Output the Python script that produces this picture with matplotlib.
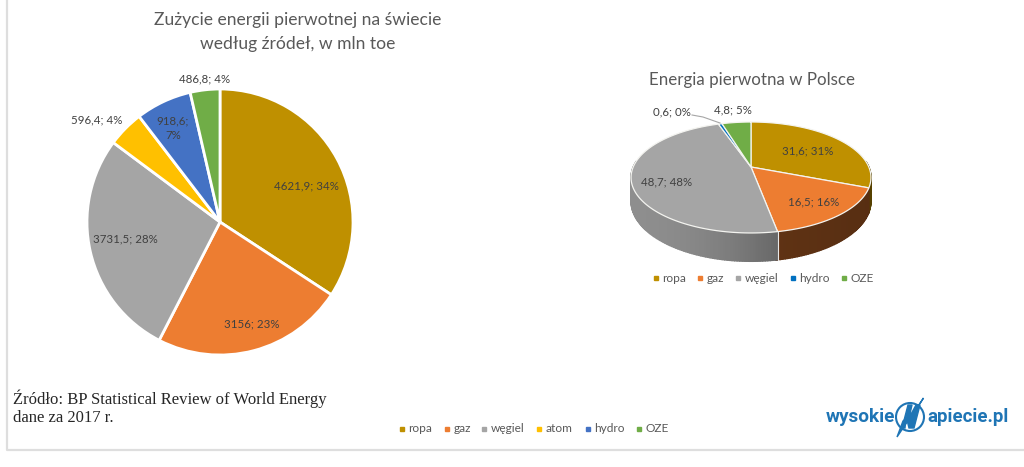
import numpy as np
import matplotlib
matplotlib.use('Agg')
import matplotlib.pyplot as plt
from matplotlib.patches import Circle

# Dane: swiat, mln toe
kategorie_swiat = ['ropa', 'gaz', 'węgiel', 'atom', 'hydro', 'OZE']
wartosci_swiat = [4621.9, 3156, 3731.5, 596.4, 918.6, 486.8]
etykiety_swiat = ['4621,9; 34%', '3156; 23%', '3731,5; 28%', '596,4; 4%', '918,6;\n7%', '486,8; 4%']
kolory_swiat = ['#BF9000', '#ED7D31', '#A5A5A5', '#FFC000', '#4472C4', '#70AD47']

# Dane: Polska
kategorie_pl = ['ropa', 'gaz', 'węgiel', 'hydro', 'OZE']
wartosci_pl = [31.6, 16.5, 48.7, 0.6, 4.8]
etykiety_pl = ['31,6; 31%', '16,5; 16%', '48,7; 48%', '0,6; 0%', '4,8; 5%']
kolory_pl = ['#BF9000', '#ED7D31', '#A5A5A5', '#0070C0', '#70AD47']

SZARY = '#595959'
ETYKIETA = '#404040'
CZCIONKA = ['Lato', 'DejaVu Sans']

fig = plt.figure(figsize=(10.24, 4.67), dpi=100)
tlo = fig.add_axes([0, 0, 1, 1])
tlo.set_xlim(0, 1024)
tlo.set_ylim(467, 0)
tlo.axis('off')
tlo.set_zorder(2)

# ramka
tlo.plot([7, 7, 1024], [0, 450, 450], color='#dedede', lw=1.6)

# lewy wykres
cx, cy, r = 220, 222, 133
ax = fig.add_axes([(cx - r - 2) / 1024, 1 - (cy + r + 2) / 467, (2 * r + 4) / 1024, (2 * r + 4) / 467])
ax.pie(wartosci_swiat, colors=kolory_swiat, startangle=90, counterclock=False, radius=1,
       wedgeprops={'edgecolor': 'white', 'linewidth': 2})
ax.set_xlim(-(r + 2) / r, (r + 2) / r)
ax.set_ylim(-(r + 2) / r, (r + 2) / r)
ax.patch.set_alpha(0)

poz_swiat = [(306, 186), (252, 324), (125, 239), (97, 120), (173, 128), (205, 79)]
for et, (x, y) in zip(etykiety_swiat, poz_swiat):
    tlo.text(x, y, et, ha='center', va='center', fontsize=8.3, color=ETYKIETA, family=CZCIONKA,
             zorder=5, linespacing=1.45)

tlo.text(298, 32, 'Zużycie energii pierwotnej na świecie\nwedług źródeł, w mln toe', ha='center', va='center',
         fontsize=12.6, color=SZARY, family=CZCIONKA, linespacing=1.6)


# prawy wykres 3D: okrag rzutowany perspektywicznie
px, py = 751, 167
A, B, K = 117.8, 53.5, 0.189
GLEB = 23


def rzut(kat, dol=0):
    u, v = np.cos(kat), np.sin(kat)
    w = 1 + K * v
    return px + A * u / w, py - B * v / w + dol / w


def jasnosc(kolor, f):
    c = np.array(matplotlib.colors.to_rgb(kolor))
    return tuple(c * f)


granice = 90 - np.cumsum([0] + wartosci_pl) / sum(wartosci_pl) * 360

# bok tortu, paski od lewej do prawej
for i, kolor in enumerate(kolory_pl):
    katy = np.radians(np.arange(granice[i], granice[i + 1] - 1, -1.0))
    katy = np.append(katy, np.radians(granice[i + 1]))
    for a, b in zip(katy[:-1], katy[1:]):
        if np.sin(a) > 0.1 and np.sin(b) > 0.1:
            continue
        x1, y1 = rzut(a)
        x2, y2 = rzut(b)
        x3, y3 = rzut(b, GLEB)
        x4, y4 = rzut(a, GLEB)
        t = (x1 - 631) / 240
        if kolor == '#A5A5A5':
            f = 0.86 - 0.62 * t ** 2
        elif kolor == '#ED7D31':
            f = 0.45 - 0.08 * t
        else:
            f = 0.45
        c = jasnosc(kolor, f)
        tlo.fill([x1, x2, x3, x4], [y1, y2, y3, y4], facecolor=c, edgecolor=c, lw=1.0, zorder=2)

x_g, y_g = rzut(np.radians(granice[2]))
tlo.plot([x_g, x_g], [y_g, rzut(np.radians(granice[2]), GLEB)[1]], color='#e8e8e8', lw=0.8, zorder=3)

# wierzch tortu
for i, kolor in enumerate(kolory_pl):
    katy = np.radians(np.linspace(granice[i], granice[i + 1], 120))
    xs, ys = rzut(katy)
    tlo.fill(np.r_[px, xs], np.r_[py, ys], facecolor=kolor, edgecolor='#f4f4f0', lw=0.9, zorder=3)

poz_pl = [(808, 151), (814, 202), (667, 182), (672, 112), (733, 110)]
for et, (x, y) in zip(etykiety_pl, poz_pl):
    tlo.text(x, y, et, ha='center', va='center', fontsize=8.3, color=ETYKIETA, family=CZCIONKA, zorder=5)

# linia odniesienia dla hydro
tlo.plot([692, 703, 720], [115, 117, 123], color='#a6a6a6', lw=0.8, zorder=4)

tlo.text(752, 80, 'Energia pierwotna w Polsce', ha='center', va='center', fontsize=12.2, color=SZARY,
         family=CZCIONKA)


# legendy
def legenda(nazwy, kolory, xs, y):
    for nazwa, kolor, x in zip(nazwy, kolory, xs):
        tlo.plot([x], [y], marker='s', ms=3.4, color=kolor, zorder=5)
        tlo.text(x + 6.5, y, nazwa, ha='left', va='center', fontsize=8.6, color=SZARY, family=CZCIONKA)


legenda(kategorie_swiat, kolory_swiat, [402, 447, 484, 539, 588, 639], 429)
legenda(kategorie_pl, kolory_pl, [656, 700, 738, 793, 844], 278)

# zrodlo
tlo.text(13, 408, 'Źródło: BP Statistical Review of World Energy\ndane za 2017 r.', ha='left', va='center',
         fontsize=12, color='#262626', family=['Liberation Serif', 'DejaVu Serif'], linespacing=1.2)

# logo
NIEBIESKI = '#1F75B5'
tlo.text(895, 417, 'wysokie', ha='right', va='center', fontsize=13.7, fontweight='bold', color=NIEBIESKI,
         family=['Liberation Sans Narrow', 'Roboto'])
tlo.text(927, 417, 'apiecie.pl', ha='left', va='center', fontsize=13.4, fontweight='bold', color=NIEBIESKI,
         family=['Liberation Sans Narrow', 'Roboto'])
tlo.add_patch(Circle((910, 417), 14, facecolor='none', edgecolor=NIEBIESKI, lw=1.5, zorder=5))
tlo.fill([923.5, 897, 903, 916], [398, 437, 421, 410], color=NIEBIESKI, zorder=6)
tlo.fill([902, 908, 912, 909, 916, 920, 914, 909, 906, 905], [428, 405, 405, 418, 405, 405, 428, 428, 416, 428],
         color=NIEBIESKI, zorder=6)

fig.savefig('out.png', dpi=100)
